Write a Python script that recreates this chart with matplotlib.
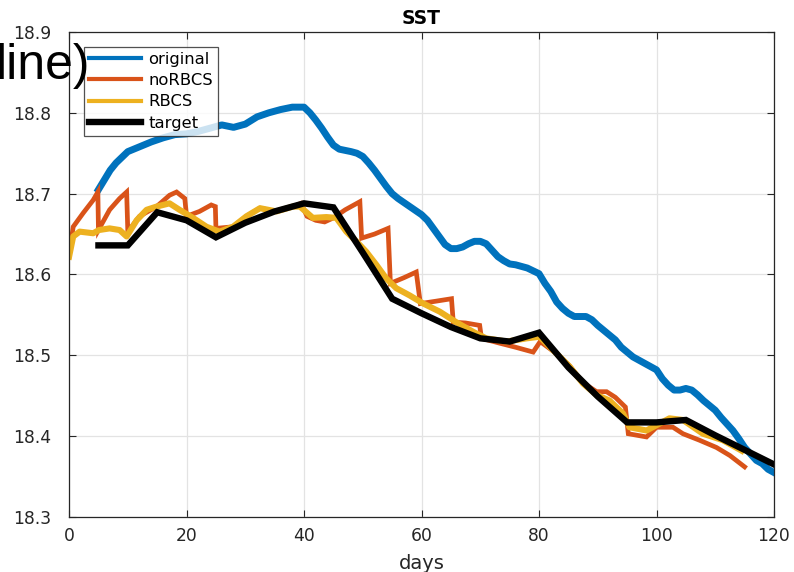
import matplotlib
matplotlib.use("Agg")
import matplotlib.pyplot as plt

# ---- data ----
days_orig = [5, 6, 7, 8, 10, 12, 14, 16, 18, 20, 22, 24, 26, 28, 30, 32, 34, 36, 38, 40,
             41, 42, 43, 44, 45, 46, 48, 49, 50, 51, 52, 53, 54, 55, 56, 58, 60, 61, 62, 63,
             64, 65, 66, 67, 68, 69, 70, 71, 72, 73, 74, 75, 76, 78, 80, 81, 82, 83, 84, 85,
             86, 88, 89, 90, 91, 92, 93, 94, 95, 96, 98, 99, 100, 101, 102, 103, 104, 105, 106, 107,
             108, 109, 110, 111, 112, 113, 114, 115, 116, 117, 118, 119, 120]
sst_orig = [18.705, 18.717, 18.729, 18.738, 18.752, 18.758, 18.764, 18.769, 18.773, 18.774,
            18.777, 18.781, 18.785, 18.782, 18.786, 18.795, 18.800, 18.804, 18.807, 18.807,
            18.800, 18.791, 18.781, 18.770, 18.760, 18.755, 18.752, 18.750, 18.746, 18.738,
            18.729, 18.719, 18.709, 18.700, 18.694, 18.684, 18.674, 18.667, 18.657, 18.647,
            18.637, 18.632, 18.632, 18.634, 18.638, 18.641, 18.641, 18.638, 18.630, 18.622,
            18.617, 18.613, 18.612, 18.608, 18.601, 18.589, 18.579, 18.566, 18.558, 18.552,
            18.548, 18.548, 18.544, 18.537, 18.531, 18.525, 18.519, 18.510, 18.504, 18.498,
            18.490, 18.486, 18.482, 18.471, 18.463, 18.457, 18.457, 18.459, 18.457, 18.451,
            18.444, 18.438, 18.432, 18.423, 18.415, 18.407, 18.397, 18.386, 18.378, 18.370,
            18.366, 18.359, 18.355]

days_norbcs = [0, 0.7, 2.4, 4.1, 4.9, 5.0, 6.9, 8.6, 9.8, 10.0, 12.0, 14.9, 17.1, 18.3, 19.7,
               20.0, 22.2, 24.2, 24.9, 25.0, 27.9, 30.2, 32.5, 35.3, 38.1, 39.5, 40.5, 42, 43.5,
               45.0, 47, 49.5, 49.8, 52, 54.3, 54.7, 57, 59.1, 59.8, 62.5, 65.1, 65.4, 67.5, 69.9,
               70.2, 73.3, 76, 79, 80.2, 83, 85.2, 87.5, 89.8, 91.5, 93, 94.7, 95.2, 98.3, 100,
               102.8, 104.5, 107.3, 110.2, 112.5, 115.0]
sst_norbcs = [18.622, 18.659, 18.676, 18.692, 18.702, 18.655, 18.680, 18.694, 18.702, 18.653,
              18.672, 18.684, 18.698, 18.702, 18.694, 18.672, 18.678, 18.686, 18.684, 18.657,
              18.659, 18.672, 18.682, 18.678, 18.684, 18.688, 18.672, 18.667, 18.665, 18.670,
              18.680, 18.690, 18.645, 18.650, 18.657, 18.589, 18.596, 18.603, 18.564, 18.567,
              18.570, 18.541, 18.540, 18.537, 18.521, 18.515, 18.510, 18.504, 18.517, 18.502,
              18.487, 18.466, 18.455, 18.455, 18.448, 18.436, 18.403, 18.399, 18.411, 18.411,
              18.403, 18.395, 18.386, 18.376, 18.362]

days_rbcs = [0, 0.7, 1.8, 4.1, 5.1, 6.9, 8.6, 9.8, 11.5, 13.2, 14.9, 17.1, 18.8, 21.1, 23.4,
             25.6, 27.9, 30.2, 32.5, 35.3, 38.1, 39.3, 41.5, 43.8, 45.5, 47.2, 48.9, 50.6, 52.3,
             54.0, 55.7, 58.0, 60.3, 63.1, 65.9, 68.8, 71.0, 74.5, 77.9, 80.1, 83, 85.2, 87.5,
             89.8, 92, 94.3, 95.4, 98.3, 102.2, 104.5, 107.9, 111.3, 114.5]
sst_rbcs = [18.622, 18.647, 18.653, 18.651, 18.655, 18.657, 18.655, 18.647, 18.667, 18.680,
            18.684, 18.688, 18.680, 18.670, 18.659, 18.653, 18.659, 18.672, 18.682, 18.678,
            18.684, 18.684, 18.670, 18.671, 18.670, 18.653, 18.641, 18.628, 18.612, 18.595,
            18.583, 18.574, 18.564, 18.554, 18.541, 18.529, 18.521, 18.517, 18.521, 18.523,
            18.502, 18.486, 18.465, 18.451, 18.444, 18.428, 18.411, 18.407, 18.422, 18.420,
            18.403, 18.395, 18.382]

days_target = [5, 10, 15, 20, 25, 30, 35, 40, 45, 50, 55, 60, 65, 70, 75, 80, 85, 90, 95, 100,
               105, 110, 115, 120]
sst_target = [18.636, 18.636, 18.677, 18.667, 18.646, 18.664, 18.678, 18.688, 18.683, 18.627,
              18.570, 18.552, 18.535, 18.521, 18.517, 18.528, 18.485, 18.449, 18.417, 18.417,
              18.420, 18.401, 18.383, 18.365]

series_labels = ["original", "noRBCS", "RBCS", "target"]
xticks = [0, 20, 40, 60, 80, 100, 120]
yticks = [18.3, 18.4, 18.5, 18.6, 18.7, 18.8, 18.9]

# ---- figure ----
fig = plt.figure(figsize=(7.94, 5.72), dpi=100)
ax = fig.add_axes([0.0870, 0.0962, 0.8878, 0.8479])

c_blue = "#0072BD"
c_orange = "#D95319"
c_yellow = "#EDB120"

l1, = ax.plot(days_orig, sst_orig, color=c_blue, lw=5.0, label=series_labels[0],
              solid_joinstyle="round")
l2, = ax.plot(days_norbcs, sst_norbcs, color=c_orange, lw=3.4, label=series_labels[1],
              solid_joinstyle="miter")
l3, = ax.plot(days_rbcs, sst_rbcs, color=c_yellow, lw=4.4, label=series_labels[2],
              solid_joinstyle="round")
l4, = ax.plot(days_target, sst_target, color="black", lw=4.6, label=series_labels[3],
              solid_joinstyle="miter")

ax.set_xlim(0, 120)
ax.set_ylim(18.3, 18.9)
ax.set_xticks(xticks)
ax.set_yticks(yticks)
ax.set_yticklabels([f"{v:.1f}" for v in yticks])
ax.grid(True, color="#e3e3e3", lw=0.9)
ax.set_axisbelow(True)

tc = "#262626"
ax.tick_params(direction="in", length=5, width=0.8, colors=tc, labelsize=12.3,
               top=True, right=True)
ax.tick_params(axis="y", pad=13)
ax.tick_params(axis="x", pad=7)
for s in ax.spines.values():
    s.set_color(tc)
    s.set_linewidth(0.9)

ax.set_xlabel("days", fontsize=14, color=tc, labelpad=7)
ax.set_title("SST", fontsize=13.5, fontweight="bold", pad=6)

leg = ax.legend(loc="upper left", bbox_to_anchor=(0.0213, 0.969), borderaxespad=0,
                fontsize=11.8, frameon=True, fancybox=False, edgecolor=tc,
                handlelength=3.2, handletextpad=0.4, labelspacing=0.38, borderpad=0.3)
leg.get_frame().set_linewidth(0.9)
for h, w in zip(leg.get_lines(), [3.0, 3.0, 3.0, 4.6]):
    h.set_linewidth(w)

fig.text(0.114, 0.862, "line)", fontsize=36, family="Liberation Sans", ha="right",
         va="baseline", color="black", zorder=10)

fig.savefig("out.png", dpi=100)
